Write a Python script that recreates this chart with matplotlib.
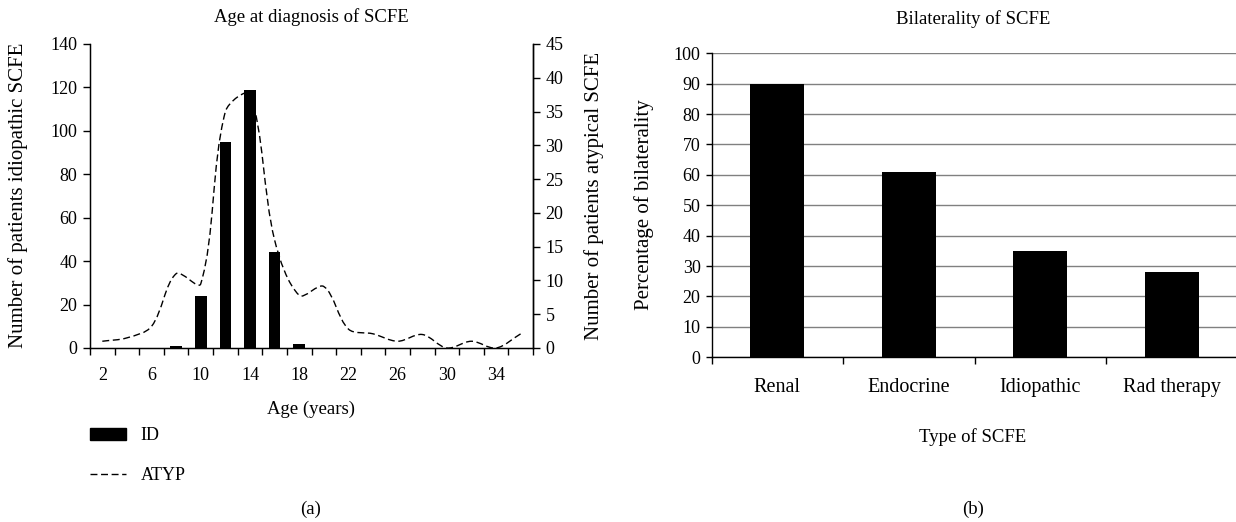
import numpy as np
import matplotlib
matplotlib.use('Agg')
import matplotlib.pyplot as plt
from matplotlib.path import Path
from matplotlib.patches import PathPatch, Patch
from matplotlib.lines import Line2D

plt.rcParams['font.family'] = ['Liberation Serif', 'DejaVu Serif']

# (a) age at diagnosis
ages = [2, 4, 6, 8, 10, 12, 14, 16, 18, 20, 22, 24, 26, 28, 30, 32, 34, 36]
id_counts = [0, 0, 0, 1, 24, 95, 119, 44, 2, 0, 0, 0, 0, 0, 0, 0, 0, 0]
atyp_counts = [1.0, 1.5, 3.2, 11.0, 9.5, 35.0, 37.5, 16.0, 7.8, 9.1,
               2.8, 2.1, 1.0, 2.0, 0.0, 1.0, 0.0, 2.1]

# (b) bilaterality
types = ['Renal', 'Endocrine', 'Idiopathic', 'Rad therapy']
bilateral_pct = [90, 61, 35, 28]

W, H = 1236, 522
fig = plt.figure(figsize=(W / 100, H / 100), dpi=100)

def fx(px):
    return px / W

def fy(py):
    return 1 - py / H

FS = 13
DASH = (0, (5, 2.6))

# ---------- left panel ----------
ax1 = fig.add_axes([fx(90), fy(348), fx(533 - 90), (348 - 44) / H])
x = np.arange(len(ages))
ax1.bar(x, id_counts, width=0.47, color='black', zorder=2)
ax1.set_xlim(-0.5, len(ages) - 0.5)
ax1.set_ylim(0, 140)
ax1.set_yticks(np.arange(0, 141, 20))
ax1.set_xticks(x[::2])
ax1.set_xticklabels([str(a) for a in ages[::2]])
ax1.set_xticks(np.arange(-0.5, len(ages), 1), minor=True)
ax1.tick_params(axis='x', which='major', length=0, pad=14, labelsize=FS)
ax1.tick_params(axis='x', which='minor', length=5, width=1, direction='out')
ax1.tick_params(axis='y', length=5, width=1, direction='out', labelsize=FS, pad=4)
ax1.spines['top'].set_visible(False)
for s in ['left', 'bottom', 'right']:
    ax1.spines[s].set_linewidth(1)

ax2 = ax1.twinx()
ax2.set_ylim(0, 45)
ax2.set_yticks(np.arange(0, 46, 5))
ax2.tick_params(axis='y', length=5, width=1, direction='out', labelsize=FS, pad=4)
ax2.spines['top'].set_visible(False)
ax2.spines['right'].set_linewidth(1)

# Excel-like smoothed line: cubic Bezier pieces, tangents scaled by
# on-screen segment lengths so steep jumps do not overshoot
T = ax2.transData
pts = T.transform(np.column_stack([x, atyp_counts]).astype(float))
n = len(pts)
verts = [pts[0]]
codes = [Path.MOVETO]
for i in range(n - 1):
    p0 = pts[i - 1] if i > 0 else pts[i]
    p1 = pts[i]
    p2 = pts[i + 1]
    p3 = pts[i + 2] if i + 2 < n else pts[i + 1]
    d01 = np.hypot(*(p1 - p0))
    d12 = np.hypot(*(p2 - p1))
    d23 = np.hypot(*(p3 - p2))
    c1 = p1 + (p2 - p0) * d12 / (3 * (d01 + d12))
    c2 = p2 - (p3 - p1) * d12 / (3 * (d12 + d23))
    verts += [c1, c2, p2]
    codes += [Path.CURVE4] * 3
verts = T.inverted().transform(np.array(verts))
curve = PathPatch(Path(verts, codes), facecolor='none', edgecolor='black',
                  lw=1.0, linestyle=DASH, zorder=3)
ax2.add_patch(curve)

fig.text(fx(311), fy(17), 'Age at diagnosis of SCFE', ha='center', va='center', fontsize=13.5)
fig.text(fx(311), fy(409), 'Age (years)', ha='center', va='center', fontsize=13.5)
fig.text(fx(18), fy(195), 'Number of patients idiopathic SCFE', ha='center', va='center',
         rotation=90, fontsize=15)
fig.text(fx(594), fy(196), 'Number of patients atypical SCFE', ha='center', va='center',
         rotation=90, fontsize=15)
fig.text(fx(311), fy(509), '(a)', ha='center', va='center', fontsize=13.5)

handles = [Patch(facecolor='black', edgecolor='black'),
           Line2D([], [], color='black', lw=1.0, linestyle=DASH)]
fig.legend(handles, ['ID', 'ATYP'], loc='upper left', bbox_to_anchor=(fx(90), fy(427)),
           bbox_transform=fig.transFigure, frameon=False, fontsize=FS,
           handlelength=2.0, handleheight=0.65, handletextpad=0.8,
           labelspacing=1.3, borderpad=0, borderaxespad=0)

# ---------- right panel ----------
ax3 = fig.add_axes([fx(711.7), fy(357.3), fx(1237.5 - 711.7), (357.3 - 53.3) / H])
xb = np.arange(len(types))
ax3.bar(xb, bilateral_pct, width=0.41, color='black', zorder=3)
ax3.set_xlim(-0.5, len(types) - 0.5)
ax3.set_ylim(0, 100)
ax3.set_yticks(np.arange(0, 101, 10))
ax3.yaxis.grid(True, color='#808080', lw=1)
ax3.set_axisbelow(True)
ax3.set_xticks(xb)
ax3.set_xticklabels(types)
ax3.set_xticks(np.arange(-0.5, len(types), 1), minor=True)
ax3.tick_params(axis='x', which='major', length=0, pad=15, labelsize=14.5)
ax3.tick_params(axis='x', which='minor', length=5, width=1, direction='out')
ax3.tick_params(axis='y', length=4, width=1, direction='out', labelsize=FS, pad=4)
for s in ['top', 'right']:
    ax3.spines[s].set_visible(False)
for s in ['left', 'bottom']:
    ax3.spines[s].set_linewidth(1)

fig.text(fx(973), fy(19), 'Bilaterality of SCFE', ha='center', va='center', fontsize=13.5)
fig.text(fx(973), fy(437), 'Type of SCFE', ha='center', va='center', fontsize=13.5)
fig.text(fx(644), fy(205), 'Percentage of bilaterality', ha='center', va='center',
         rotation=90, fontsize=15)
fig.text(fx(973), fy(509), '(b)', ha='center', va='center', fontsize=13.5)

fig.savefig('out.png', dpi=100)
